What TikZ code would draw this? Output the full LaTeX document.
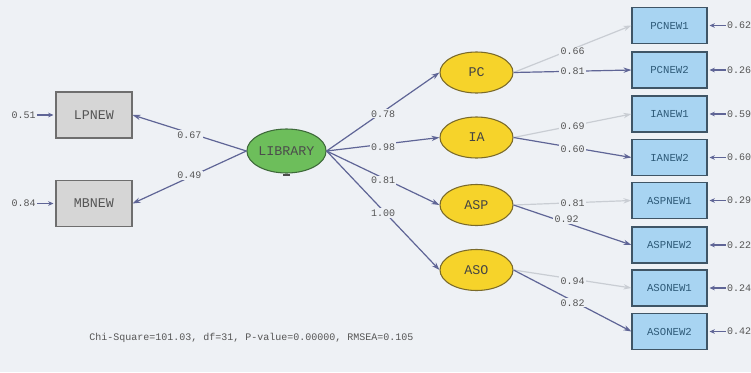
\documentclass[tikz,border=0pt]{standalone}
\usepackage{fontspec}
\setmainfont{Liberation Mono}
\usetikzlibrary{arrows.meta,shapes.geometric}
\definecolor{bgc}{RGB}{238,241,245}
\definecolor{grayfill}{RGB}{214,214,214}
\definecolor{graybd}{RGB}{110,110,110}
\definecolor{bluefill}{RGB}{168,212,242}
\definecolor{bluebd}{RGB}{63,85,102}
\definecolor{bluetxt}{RGB}{46,90,120}
\definecolor{yelfill}{RGB}{246,211,42}
\definecolor{yelbd}{RGB}{122,106,42}
\definecolor{grnfill}{RGB}{109,190,91}
\definecolor{grnbd}{RGB}{62,106,58}
\definecolor{edark}{RGB}{95,101,150}
\definecolor{elight}{RGB}{201,205,211}
\definecolor{labtxt}{RGB}{85,85,85}
\begin{document}
\begin{tikzpicture}[x=0.75pt,y=-0.75pt,
  grayobs/.style={draw=graybd,fill=grayfill,line width=0.8pt,minimum width=57pt,minimum height=34.5pt,inner sep=0pt,font=\fontsize{10}{10}\selectfont,text=labtxt},
  blueobs/.style={draw=bluebd,fill=bluefill,line width=0.8pt,minimum width=56.25pt,minimum height=27pt,inner sep=0pt,font=\fontsize{8}{8}\selectfont,text=bluetxt},
  latent/.style={ellipse,draw=yelbd,fill=yelfill,line width=0.8pt,minimum width=54.75pt,minimum height=30.75pt,inner sep=0pt,font=\fontsize{10}{10}\selectfont,text=labtxt!80!black},
  hilatent/.style={ellipse,draw=grnbd,fill=grnfill,line width=0.8pt,minimum width=57.75pt,minimum height=33pt,inner sep=0pt,font=\fontsize{10}{10}\selectfont,text=black!70},
  darkpath/.style={draw=edark,line width=0.9pt,-{Stealth[length=6pt,width=4pt]}},
  lightpath/.style={draw=elight,line width=0.9pt,-{Stealth[length=6pt,width=4pt]}},
  lbl/.style={fill=bgc,inner sep=1pt,font=\fontsize{7.5}{7.5}\selectfont,text=labtxt},
  errlbl/.style={inner sep=0pt,font=\fontsize{7.5}{7.5}\selectfont,text=labtxt},
  errpath/.style={draw=edark,line width=1pt,-{Stealth[length=4pt,width=3.5pt]},shorten >=1.5pt,shorten <=1pt}
]
\useasboundingbox (0,0) rectangle (751,372);
\fill[bgc] (0,0) rectangle (751,372);

% left observed
\node[grayobs] (LPNEW) at (94,115) {LPNEW};
\node[grayobs] (MBNEW) at (94,203.5) {MBNEW};
% second-order latent
\node[hilatent] (LIB) at (286.5,151) {LIBRARY};
\draw[black!70,line width=1.5pt] (283,174.5) -- (290,174.5);
% first-order latents
\node[latent] (PC) at (476.5,72.5) {PC};
\node[latent] (IA) at (476.5,137.5) {IA};
\node[latent] (ASP) at (476.5,205) {ASP};
\node[latent] (ASO) at (476.5,270) {ASO};
% right observed
\node[blueobs] (PCNEW1) at (669.5,25.5) {PCNEW1};
\node[blueobs] (PCNEW2) at (669.5,70) {PCNEW2};
\node[blueobs] (IANEW1) at (669.5,114) {IANEW1};
\node[blueobs] (IANEW2) at (669.5,157.5) {IANEW2};
\node[blueobs] (ASPNEW1) at (669.5,200.5) {ASPNEW1};
\node[blueobs] (ASPNEW2) at (669.5,245) {ASPNEW2};
\node[blueobs] (ASONEW1) at (669.5,288) {ASONEW1};
\node[blueobs] (ASONEW2) at (669.5,331.5) {ASONEW2};

% LIBRARY paths
\draw[darkpath] (LIB.west) -- node[lbl,pos=0.5,yshift=-1.5pt] {0.67} (LPNEW.east);
\draw[darkpath] (LIB.west) -- node[lbl,pos=0.5,yshift=1.5pt] {0.49} (MBNEW.east);
\draw[darkpath] (LIB.east) -- node[lbl,pos=0.5,yshift=-1.5pt] {0.78} (PC.west);
\draw[darkpath] (LIB.east) -- node[lbl,pos=0.5,yshift=-2pt] {0.98} (IA.west);
\draw[darkpath] (LIB.east) -- node[lbl,pos=0.5,yshift=-2pt] {0.81} (ASP.west);
\draw[darkpath] (LIB.east) -- node[lbl,pos=0.5,yshift=-2pt] {1.00} (ASO.west);

% loadings
\draw[lightpath] (PC.east) -- node[lbl,pos=0.5,yshift=-2pt] {0.66} (PCNEW1.west);
\draw[darkpath] (PC.east) -- node[lbl,pos=0.5] {0.81} (PCNEW2.west);
\draw[lightpath] (IA.east) -- node[lbl,pos=0.5] {0.69} (IANEW1.west);
\draw[darkpath] (IA.east) -- node[lbl,pos=0.5,yshift=-1pt] {0.60} (IANEW2.west);
\draw[lightpath] (ASP.east) -- node[lbl,pos=0.5] {0.81} (ASPNEW1.west);
\draw[darkpath] (ASP.east) -- node[lbl,pos=0.45,yshift=3pt] {0.92} (ASPNEW2.west);
\draw[lightpath] (ASO.east) -- node[lbl,pos=0.5,yshift=-1.5pt] {0.94} (ASONEW1.west);
\draw[darkpath] (ASO.east) -- node[lbl,pos=0.5,yshift=-1.5pt] {0.82} (ASONEW2.west);

% error terms left
\node[errlbl,anchor=east] (eLP) at (36,115) {0.51};
\node[errlbl,anchor=east] (eMB) at (36,203.5) {0.84};
\draw[errpath] (eLP.east) -- (LPNEW.west);
\draw[errpath] (eMB.east) -- (MBNEW.west);

% error terms right
\foreach \b/\v in {PCNEW1/0.62,PCNEW2/0.26,IANEW1/0.59,IANEW2/0.60,ASPNEW1/0.29,ASPNEW2/0.22,ASONEW1/0.24,ASONEW2/0.42}{
  \node[errlbl,anchor=west] (e\b) at ([xshift=14.5pt]\b.east) {\v};
  \draw[errpath] (e\b.west) -- (\b.east);
}

% fit statistics
\node[errlbl,anchor=west] (fit) at (89,338) {Chi-Square=101.03, df=31, P-value=0.00000, RMSEA=0.105};
\end{tikzpicture}
\end{document}
